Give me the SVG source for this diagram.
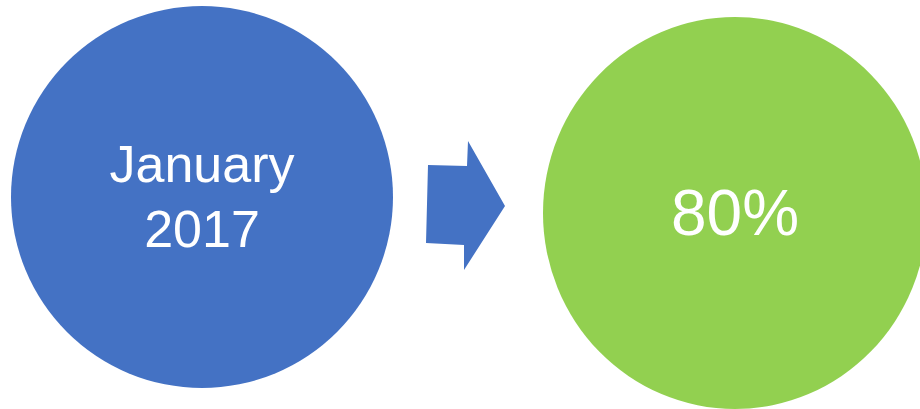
<svg xmlns="http://www.w3.org/2000/svg" width="920" height="409" viewBox="0 0 920 409">
<style>
.lbl{font-family:"Liberation Sans","DejaVu Sans",sans-serif;fill:#ffffff;text-anchor:middle}
</style>
<rect width="920" height="409" fill="#ffffff"/>
<g id="node-january">
<ellipse cx="202" cy="197" rx="191" ry="191" fill="#4472C4"/>
<text class="lbl" x="202" y="182" font-size="52">January</text>
<text class="lbl" x="202" y="247" font-size="52">2017</text>
</g>
<g id="connectors">
<polygon points="428,165 467,166 468,141 505,206 464,270 464,245 426,243" fill="#4472C4"/>
</g>
<g id="node-80">
<ellipse cx="735" cy="213" rx="192" ry="196" fill="#92D050"/>
<text class="lbl" x="735" y="235" font-size="64">80%</text>
</g>
</svg>
